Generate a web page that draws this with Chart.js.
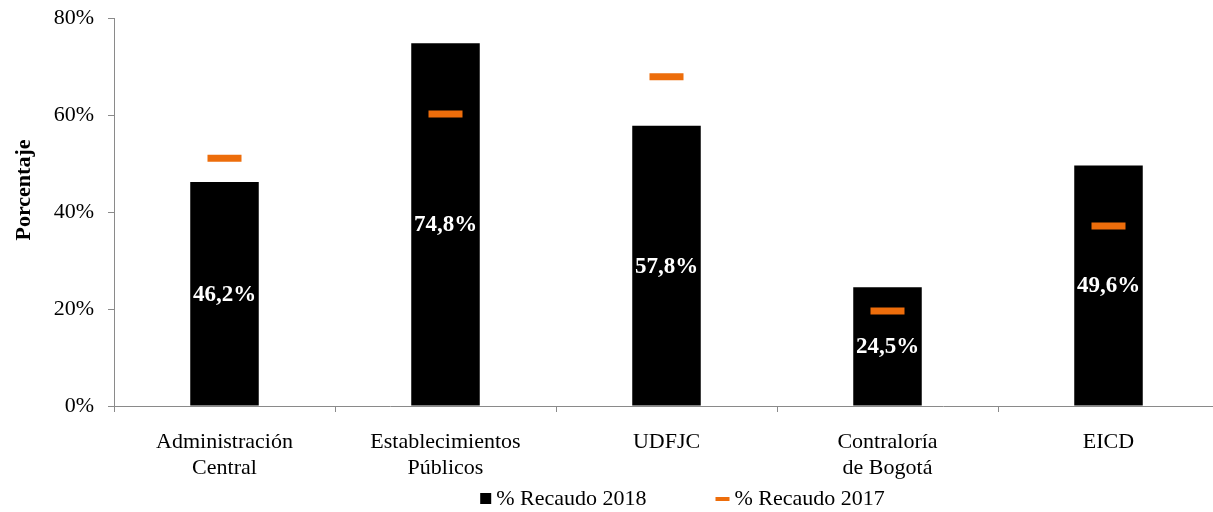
<!DOCTYPE html>
<html lang="es">
<head>
<meta charset="UTF-8">
<title>Recaudo 2018 vs 2017</title>
<script src="https://cdn.jsdelivr.net/npm/chart.js@4.4.0/dist/chart.umd.min.js"></script>
<style>
    html, body { margin: 0; padding: 0; background: #fff; overflow: hidden; }
    /* el eje x sigue un poco más allá del borde visible */
    #wrap { width: 1213px; height: 512px; overflow: hidden; }
</style>
</head>
<body>
<div id="wrap"><canvas id="chart" width="1219" height="512"></canvas></div>
<script>
// Entidades y porcentajes de recaudo
const categorias = [
    ['Administración', 'Central'],
    ['Establecimientos', 'Públicos'],
    'UDFJC',
    ['Contraloría', 'de Bogotá'],
    'EICD'
];
const recaudo2018 = [46.2, 74.8, 57.8, 24.5, 49.6];
const recaudo2017 = [51.1, 60.2, 67.9, 19.6, 37.1];
const ticksY = [0, 20, 40, 60, 80];
const tituloY = 'Porcentaje';

const FONT = "'Liberation Serif', 'Times New Roman', serif";
const NARANJA = '#ED6D0B';
const GRIS = '#8a8a8a';

const fmt = v => v.toFixed(1).replace('.', ',') + '%';

// etiquetas blancas centradas dentro de cada barra
const etiquetasBarras = {
    id: 'etiquetasBarras',
    afterDatasetsDraw(chart) {
        const ctx = chart.ctx;
        const meta = chart.getDatasetMeta(0);
        ctx.save();
        ctx.font = 'bold 23px ' + FONT;
        ctx.fillStyle = '#fff';
        ctx.textAlign = 'center';
        ctx.textBaseline = 'middle';
        meta.data.forEach((bar, i) => {
            ctx.fillText(fmt(recaudo2018[i]), bar.x, (bar.y + bar.base) / 2 + 1);
        });
        ctx.restore();
    }
};

// título vertical del eje y, algo por encima del centro
const tituloEje = {
    id: 'tituloEje',
    afterDraw(chart) {
        const ctx = chart.ctx;
        ctx.save();
        ctx.translate(24, 190);
        ctx.rotate(-Math.PI / 2);
        ctx.font = 'bold 22px ' + FONT;
        ctx.fillStyle = '#000';
        ctx.textAlign = 'center';
        ctx.textBaseline = 'middle';
        ctx.fillText(tituloY, 0, 0);
        ctx.restore();
    }
};

// leyenda inferior dibujada a mano (cuadro negro y guion naranja)
const leyenda = {
    id: 'leyenda',
    afterDraw(chart) {
        const ctx = chart.ctx;
        const ds = chart.data.datasets;
        ctx.save();
        ctx.font = '22px ' + FONT;
        ctx.textBaseline = 'middle';
        const w1 = ctx.measureText(ds[0].label).width;
        const w2 = ctx.measureText(ds[1].label).width;
        const gap = 69;
        const total = 11 + 5 + w1 + gap + 14 + 5 + w2;
        const area = chart.chartArea;
        let x = (area.left + area.right) / 2 - total / 2 + 16;
        const y = 499;
        ctx.fillStyle = '#000';
        ctx.fillRect(x, y - 6, 11, 11);
        x += 16;
        ctx.fillText(ds[0].label, x, y);
        x += w1 + gap;
        ctx.fillStyle = NARANJA;
        ctx.fillRect(x, y - 2, 14, 4);
        x += 19;
        ctx.fillStyle = '#000';
        ctx.fillText(ds[1].label, x, y);
        ctx.restore();
    }
};

new Chart(document.getElementById('chart'), {
    data: {
        labels: categorias,
        datasets: [
            {
                type: 'bar',
                label: '% Recaudo 2018',
                data: recaudo2018,
                backgroundColor: '#000',
                categoryPercentage: 1,
                barPercentage: 0.31,
                order: 2
            },
            {
                type: 'line',
                label: '% Recaudo 2017',
                data: recaudo2017,
                showLine: false,
                pointStyle: 'line',
                pointRadius: 17,
                pointHoverRadius: 17,
                pointBorderWidth: 7,
                pointHoverBorderWidth: 7,
                borderColor: NARANJA,
                backgroundColor: NARANJA,
                order: 1
            }
        ]
    },
    options: {
        responsive: false,
        animation: false,
        events: [],
        layout: {
            autoPadding: false,
            padding: { top: 18, right: 0, left: 0, bottom: 0 }
        },
        plugins: {
            legend: { display: false },
            tooltip: { enabled: false }
        },
        scales: {
            x: {
                offset: true,
                grid: {
                    offset: true,
                    drawOnChartArea: false,
                    drawTicks: true,
                    tickLength: 6,
                    color: GRIS
                },
                border: { color: GRIS, width: 1 },
                ticks: {
                    color: '#000',
                    font: { family: FONT, size: 22 },
                    padding: 17,
                    maxRotation: 0,
                    autoSkip: false
                },
                afterFit(scale) {
                    scale.height = 106;
                    scale.paddingLeft = 0;
                    scale.paddingRight = 0;
                }
            },
            y: {
                min: 0,
                max: 80,
                afterBuildTicks(scale) {
                    scale.ticks = ticksY.map(v => ({ value: v }));
                },
                grid: {
                    drawOnChartArea: false,
                    drawTicks: true,
                    tickLength: 6,
                    color: GRIS
                },
                border: { color: GRIS, width: 1 },
                ticks: {
                    color: '#000',
                    font: { family: FONT, size: 22 },
                    padding: 14,
                    callback: v => v + '%'
                },
                afterFit(scale) {
                    scale.width = 114;
                    scale.paddingTop = 0;
                    scale.paddingBottom = 0;
                }
            }
        }
    },
    plugins: [etiquetasBarras, tituloEje, leyenda]
});
</script>
</body>
</html>
